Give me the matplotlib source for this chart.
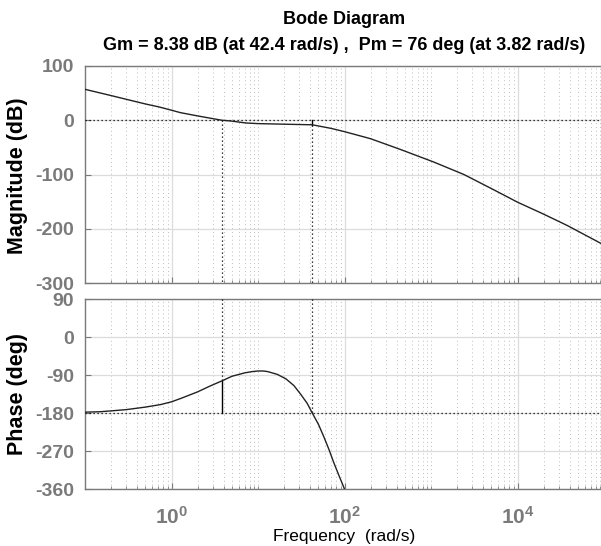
import numpy as np
import matplotlib
matplotlib.use("Agg")
import matplotlib.pyplot as plt
from matplotlib.ticker import FixedLocator, NullFormatter, LogLocator

plt.rcParams['font.family'] = ['Liberation Sans', 'DejaVu Sans']
plt.rcParams['mathtext.fontset'] = 'custom'
plt.rcParams['mathtext.rm'] = 'Liberation Sans'
plt.rcParams['mathtext.bf'] = 'Liberation Sans:bold'

# ---- data ----
mag_w = [0.1, 0.2, 0.5, 0.71, 1, 1.27, 2, 3.82, 4.8, 7.2, 10, 22, 42.4, 70,
         100, 200, 446, 1075, 2400, 5000, 1e4, 2e4, 3.76e4, 1e5]
mag_db = [57, 45.5, 30, 24.7, 18.5, 14, 8, 0, -1.3, -5, -6.2, -7.4, -8.38, -15,
          -21, -34, -54, -77, -100, -126, -151, -173, -194, -230]

ph_w = [0.1, 0.15, 0.2, 0.3, 0.5, 0.75, 1, 1.3, 2, 2.8, 3.82, 5, 7, 8.5, 10, 11.5, 13,
        16.7, 21, 26, 31, 37, 42.4, 50, 57.6, 66, 75, 87, 100]
ph_deg = [-178, -177, -175, -172, -166, -160, -153.5, -145, -130, -116, -104,
          -93, -85, -82, -80.5, -80.5, -82, -88.5, -99, -115, -135, -157, -180, -207, -236,
          -266, -297, -330, -360]

gm_db, gm_w = 8.38, 42.4
pm_deg, pm_w = 76, 3.82

mag_ticks = [100, 0, -100, -200, -300]
ph_ticks = [90, 0, -90, -180, -270, -360]
x_ticks = [1, 100, 10000]
x_ticklabels = [r'$\mathbf{10^{0}}$', r'$\mathbf{10^{2}}$', r'$\mathbf{10^{4}}$']

title1 = 'Bode Diagram'
title2 = 'Gm = 8.38 dB (at 42.4 rad/s) ,  Pm = 76 deg (at 3.82 rad/s)'

# ---- figure ----
W, H = 601, 546
fig = plt.figure(figsize=(W / 100, H / 100), dpi=100)
fig.patch.set_facecolor('white')

left = 85 / W
width = 519 / W
ax1 = fig.add_axes([left, 1 - 283 / H, width, 217 / H])
ax2 = fig.add_axes([left, 1 - 489 / H, width, 190 / H])

grey = '#7a7a7a'
dot = (0, (1, 2.2))

for ax in (ax1, ax2):
    ax.set_xscale('log')
    ax.set_xlim(0.1, 1e5)
    ax.xaxis.set_major_locator(FixedLocator(x_ticks))
    ax.xaxis.set_minor_locator(LogLocator(base=10, subs=np.arange(1, 10), numticks=50))
    ax.xaxis.set_minor_formatter(NullFormatter())
    ax.tick_params(which='both', direction='in', colors=grey, top=False, right=False)
    ax.tick_params(which='major', length=4, width=0.8)
    ax.tick_params(which='minor', length=2.5, width=0.6)
    ax.tick_params(axis='y', which='minor', left=False)
    for s in ax.spines.values():
        s.set_color(grey)
        s.set_linewidth(1.0)
    ax.spines['right'].set_visible(False)
    ax.grid(True, which='major', color='#dcdcdc', linewidth=0.9, linestyle='-')
    ax.grid(True, which='minor', axis='x', color='#bdbdbd', linewidth=0.7, linestyle=(0, (1, 3)))
    ax.set_axisbelow(True)

# magnitude
ax1.set_ylim(-300, 100)
ax1.yaxis.set_major_locator(FixedLocator(mag_ticks))
ax1.set_yticklabels([str(t) for t in mag_ticks])
ax1.xaxis.set_major_formatter(NullFormatter())
ax1.axhline(0, color='black', linestyle=dot, linewidth=0.9, zorder=3)
ax1.plot([pm_w, pm_w], [0, -300], color='black', linestyle=dot, linewidth=0.9, zorder=3)
ax1.plot([gm_w, gm_w], [-gm_db, -300], color='black', linestyle=dot, linewidth=0.9, zorder=3)
ax1.plot([gm_w, gm_w], [0, -gm_db], color='black', linewidth=1.0, zorder=4)
ax1.plot(mag_w, mag_db, color='#222222', linewidth=1.0, zorder=5)

# phase
ax2.set_ylim(-360, 90)
ax2.yaxis.set_major_locator(FixedLocator(ph_ticks))
ax2.set_yticklabels([str(t) for t in ph_ticks])
ax2.set_xticklabels(x_ticklabels)
ax2.axhline(-180, color='black', linestyle=dot, linewidth=0.9, zorder=3)
ax2.plot([pm_w, pm_w], [90, -180 + pm_deg], color='black', linestyle=dot, linewidth=0.9, zorder=3)
ax2.plot([pm_w, pm_w], [-180, -180 + pm_deg], color='black', linewidth=1.0, zorder=4)
ax2.plot([gm_w, gm_w], [90, -180], color='black', linestyle=dot, linewidth=0.9, zorder=3)
ax2.plot(ph_w, ph_deg, color='#222222', linewidth=1.0, zorder=5)

for ax in (ax1, ax2):
    for lab in ax.get_yticklabels():
        lab.set_fontsize(14)
        lab.set_fontweight('bold')
        lab.set_color(grey)
    ax.tick_params(axis='y', pad=8)
for lab in ax2.get_xticklabels():
    lab.set_fontsize(15)
    lab.set_color(grey)
ax2.tick_params(axis='x', pad=12)

cx = (85 + 519 / 2) / W
fig.text(cx, 1 - 19 / H, title1, ha='center', va='center', fontsize=13, fontweight='bold')
fig.text(cx, 1 - 46 / H, title2, ha='center', va='center', fontsize=13, fontweight='bold')
fig.text(18 / W, 1 - 176 / H, 'Magnitude (dB)', rotation=90, ha='center', va='center',
         fontsize=15.5, fontweight='bold')
fig.text(18 / W, 1 - 394 / H, 'Phase (deg)', rotation=90, ha='center', va='center',
         fontsize=15.5, fontweight='bold')
fig.text(cx, 1 - 536 / H, 'Frequency  (rad/s)', ha='center', va='center', fontsize=12.5)

fig.savefig('out.png', dpi=100)
